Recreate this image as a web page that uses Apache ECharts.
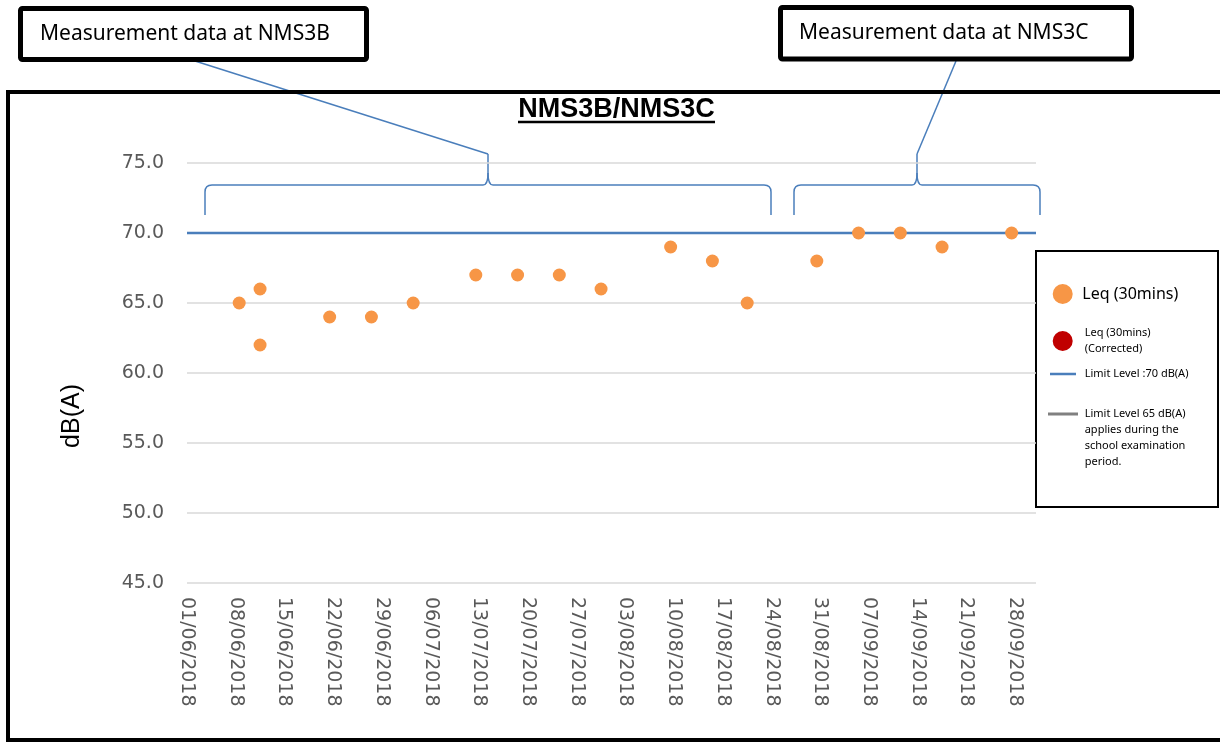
<!DOCTYPE html>
<html>
<head>
<meta charset="utf-8">
<title>NMS3B/NMS3C</title>
<script src="https://cdn.jsdelivr.net/npm/echarts@6/dist/echarts.min.js"></script>
<style>
  html, body { margin: 0; padding: 0; background: #fff; }
  #chart { width: 1220px; height: 742px; }
</style>
</head>
<body>
<div id="chart"></div>
<script>
  let measureDates = ['2018-06-08 12:00', '2018-06-11 12:00', '2018-06-11 12:00', '2018-06-21 12:00', '2018-06-27 12:00',
    '2018-07-03 12:00', '2018-07-12 12:00', '2018-07-18 12:00', '2018-07-24 12:00', '2018-07-30 12:00',
    '2018-08-09 12:00', '2018-08-15 12:00', '2018-08-20 12:00', '2018-08-30 12:00', '2018-09-05 12:00',
    '2018-09-11 12:00', '2018-09-17 12:00', '2018-09-27 12:00']
  let leqValues = [65, 66, 62, 64, 64, 65, 67, 67, 67, 66, 69, 68, 65, 68, 70, 70, 69, 70]
  let leqCorrected = []
  let limitLevel = 70
  let axisStart = '2018-06-01'
  let axisEnd = '2018-10-01'
  let tickDays = 7
  let yMin = 45
  let yMax = 75
  let yStep = 5

  let nameLeq = 'Leq (30mins)'
  let nameCorrected = 'Leq (30mins)\n(Corrected)'
  let nameLimit70 = 'Limit Level :70 dB(A)'
  let nameLimit65 = 'Limit Level 65 dB(A)\napplies during the\nschool examination\nperiod.'

  const DAY = 86400000
  function toUtc (s) {
    let p = s.split(/[- :]/).map(Number)
    return Date.UTC(p[0], p[1] - 1, p[2], p[3] || 0, p[4] || 0)
  }
  let t0 = toUtc(axisStart)
  function dayOffset (s) { return (toUtc(s) - t0) / DAY }
  function pad (n) { return n < 10 ? '0' + n : '' + n }
  function fmtDay (v) {
    let d = new Date(t0 + v * DAY)
    return pad(d.getUTCDate()) + '/' + pad(d.getUTCMonth() + 1) + '/' + d.getUTCFullYear()
  }

  let xMax = dayOffset(axisEnd)
  let leqData = measureDates.map((d, i) => [dayOffset(d), leqValues[i]])
  let limitData = [[0, limitLevel], [xMax, limitLevel]]

  let blue = '#4A7EBB'
  let txtFont = '"Noto Sans", sans-serif'

  // legend icons: the invisible point at the end widens the gap before the text
  let dotIcon = (w) => 'path://M0,10A10,10,0,1,1,20,10A10,10,0,1,1,0,10Z M' + w + ',10L' + w + ',10.01'
  let barIcon = (len, th, w) => 'path://M0,0L' + len + ',0L' + len + ',' + th + 'L0,' + th + 'Z M' + w + ',0L' + w + ',' + th

  // curly brace over a measurement period, built from lines and quadratic curves
  function brace (x1, x2, xm) {
    let yt = 185, yb = 215, tip = 154, r = 7
    let st = { stroke: blue, lineWidth: 1.5, fill: null }
    let ln = (a, b, c, d) => ({ type: 'line', shape: { x1: a, y1: b, x2: c, y2: d }, style: st })
    let qc = (a, b, cx, cy, c, d) => ({ type: 'bezierCurve', shape: { x1: a, y1: b, cpx1: cx, cpy1: cy, x2: c, y2: d }, style: st })
    return {
      type: 'group',
      children: [
        ln(x1, yb, x1, yt + r),
        qc(x1, yt + r, x1, yt, x1 + r, yt),
        ln(x1 + r, yt, xm - 5, yt),
        qc(xm - 5, yt, xm, yt, xm, yt - 12),
        ln(xm, yt - 12, xm, tip),
        qc(xm, yt - 12, xm, yt, xm + 5, yt),
        ln(xm + 5, yt, x2 - r, yt),
        qc(x2 - r, yt, x2, yt, x2, yt + r),
        ln(x2, yt + r, x2, yb),
      ],
    }
  }

  let myChart = echarts.init(document.getElementById('chart'))
  let option = {
    animation: false,
    grid: { left: 187, right: 184, top: 163, bottom: 159, containLabel: false },
    xAxis: {
      type: 'value',
      min: 0,
      max: xMax,
      interval: tickDays,
      axisLine: { show: false },
      axisTick: { show: false },
      splitLine: { show: false },
      axisLabel: {
        rotate: -90,
        margin: 14,
        showMaxLabel: false,
        color: '#595959',
        fontSize: 19,
        fontFamily: 'DejaVu Sans',
        formatter: fmtDay,
      },
    },
    yAxis: {
      type: 'value',
      min: yMin,
      max: yMax,
      interval: yStep,
      axisLine: { show: false },
      axisTick: { show: false },
      splitLine: { lineStyle: { color: '#D9D9D9', width: 1.5 } },
      axisLabel: {
        margin: 23,
        color: '#595959',
        fontSize: 19,
        fontFamily: 'DejaVu Sans',
        formatter: (v) => v.toFixed(1),
      },
    },
    legend: [
      {
        data: [nameLeq], left: 1052.7, top: 284, padding: 0, selectedMode: false,
        itemWidth: 24.6, itemHeight: 20, icon: dotIcon(24.6),
        textStyle: { color: '#000', fontSize: 16, lineHeight: 20, fontFamily: txtFont },
      },
      {
        data: [nameCorrected], left: 1052.7, top: 325, padding: 0, selectedMode: false,
        itemWidth: 27, itemHeight: 20, icon: dotIcon(27),
        textStyle: { color: '#000', fontSize: 11, lineHeight: 16, fontFamily: txtFont },
      },
      {
        data: [nameLimit70], left: 1050, top: 366, padding: 0, selectedMode: false,
        itemWidth: 29.7, itemHeight: 14, icon: barIcon(26, 2.5, 29.7),
        textStyle: { color: '#000', fontSize: 11, lineHeight: 16, fontFamily: txtFont },
      },
      {
        data: [nameLimit65], left: 1048, top: 358, padding: 0, selectedMode: false,
        itemWidth: 31.7, itemHeight: 14, icon: barIcon(30, 3, 31.7),
        formatter: (name) => '\n\n\n' + name,
        textStyle: { color: '#000', fontSize: 11, lineHeight: 16, fontFamily: txtFont },
      },
    ],
    series: [
      {
        name: nameLimit70,
        type: 'line',
        data: limitData,
        symbol: 'none',
        lineStyle: { color: blue, width: 2.5 },
        itemStyle: { color: blue },
        z: 2,
      },
      {
        name: nameLimit65,
        type: 'line',
        data: [],
        symbol: 'none',
        lineStyle: { color: '#808080', width: 3 },
        itemStyle: { color: '#808080' },
      },
      {
        name: nameLeq,
        type: 'scatter',
        data: leqData,
        symbol: 'circle',
        symbolSize: 13,
        itemStyle: { color: '#F79646', opacity: 1 },
        z: 3,
      },
      {
        name: nameCorrected,
        type: 'scatter',
        data: leqCorrected,
        symbol: 'circle',
        symbolSize: 13,
        itemStyle: { color: '#C00000', opacity: 1 },
      },
    ],
    graphic: [
      // legend frame
      { type: 'rect', shape: { x: 1036, y: 251, width: 182, height: 256 }, style: { fill: '#fff', stroke: '#000', lineWidth: 2 }, z: -1 },
      // connectors and braces
      { type: 'line', shape: { x1: 195, y1: 61, x2: 488, y2: 154 }, style: { stroke: blue, lineWidth: 1.5 } },
      { type: 'line', shape: { x1: 956, y1: 61, x2: 917, y2: 154 }, style: { stroke: blue, lineWidth: 1.5 } },
      brace(205, 771, 488),
      brace(794, 1040, 917),
      // outer frame
      { type: 'rect', shape: { x: 8, y: 92, width: 1230, height: 648 }, style: { fill: null, stroke: '#000', lineWidth: 4 } },
      // title
      { type: 'text', x: 616.5, y: 110, style: { text: 'NMS3B/NMS3C', fill: '#000', font: 'bold 27px "Liberation Sans", Arial, sans-serif', textAlign: 'center', textVerticalAlign: 'middle' } },
      { type: 'line', shape: { x1: 518, y1: 122, x2: 715, y2: 122 }, style: { stroke: '#000', lineWidth: 2.5 } },
      // y axis name
      { type: 'text', x: 72, y: 416, rotation: Math.PI / 2, style: { text: 'dB(A)', fill: '#000', font: '25px "Liberation Sans", Arial, sans-serif', textAlign: 'center', textVerticalAlign: 'middle' } },
      // callout boxes
      { type: 'rect', shape: { x: 20.5, y: 8.5, width: 346, height: 51, r: 2 }, style: { fill: '#fff', stroke: '#000', lineWidth: 5 } },
      { type: 'text', x: 40, y: 34, style: { text: 'Measurement data at NMS3B', fill: '#000', font: '21px ' + txtFont, textVerticalAlign: 'middle' } },
      { type: 'rect', shape: { x: 780.5, y: 7.5, width: 351, height: 51.5, r: 2 }, style: { fill: '#fff', stroke: '#000', lineWidth: 5 } },
      { type: 'text', x: 799, y: 33, style: { text: 'Measurement data at NMS3C', fill: '#000', font: '21px ' + txtFont, textVerticalAlign: 'middle' } },
    ],
  }
  myChart.setOption(option)
</script>
</body>
</html>
